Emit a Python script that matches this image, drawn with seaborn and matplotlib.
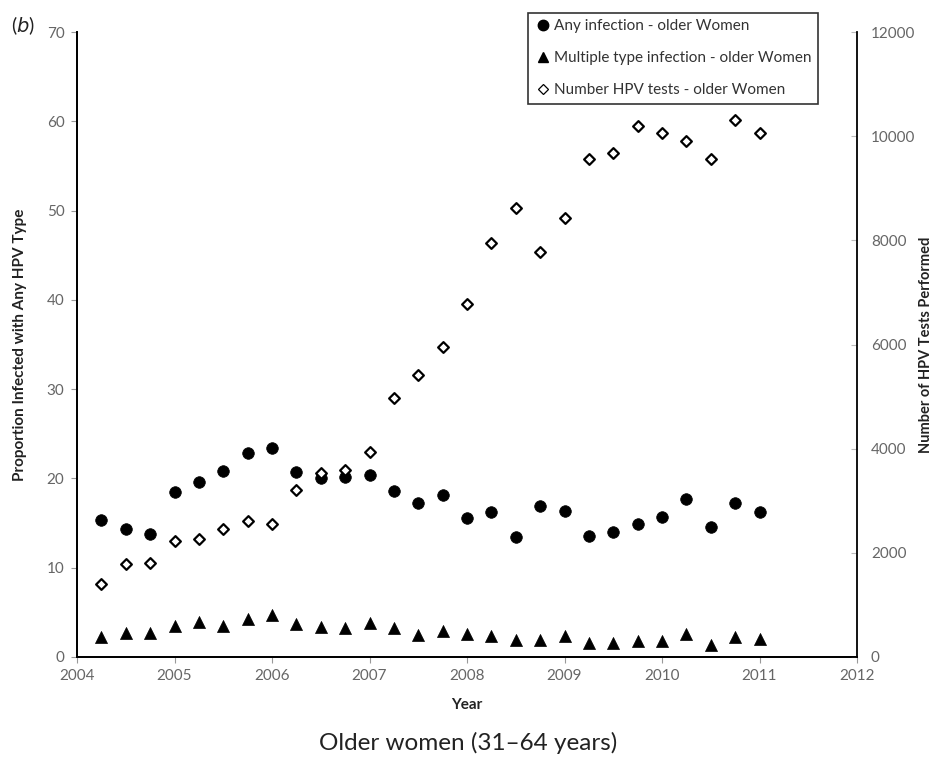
import numpy as np
import pandas as pd
import matplotlib
matplotlib.use("Agg")
import matplotlib.pyplot as plt
import seaborn as sns
from matplotlib.lines import Line2D

# quarterly sample dates
quarters = [2004.25, 2004.5, 2004.75, 2005.0, 2005.25, 2005.5, 2005.75,
            2006.0, 2006.25, 2006.5, 2006.75, 2007.0, 2007.25, 2007.5,
            2007.75, 2008.0, 2008.25, 2008.5, 2008.75, 2009.0, 2009.25,
            2009.5, 2009.75, 2010.0, 2010.25, 2010.5, 2010.75, 2011.0]

# % infected with any HPV type
any_infection = [15.4, 14.3, 13.8, 18.5, 19.6, 20.8, 22.9, 23.4, 20.7, 20.1,
                 20.2, 20.4, 18.6, 17.2, 18.2, 15.6, 16.2, 13.4, 16.9, 16.3,
                 13.5, 14.0, 14.9, 15.7, 17.7, 14.6, 17.2, 16.2]

# % with multiple type infection
multiple_type = [2.2, 2.7, 2.7, 3.5, 3.9, 3.5, 4.3, 4.7, 3.7, 3.4, 3.2, 3.8,
                 3.2, 2.5, 2.9, 2.6, 2.4, 1.9, 1.9, 2.3, 1.6, 1.6, 1.8, 1.8,
                 2.6, 1.3, 2.2, 2.0]

# number of HPV tests performed (right axis)
n_tests = [1400, 1790, 1800, 2230, 2270, 2450, 2610, 2560, 3210, 3530, 3600,
           3930, 4980, 5410, 5950, 6780, 7940, 8620, 7780, 8430, 9570, 9680,
           10200, 10070, 9900, 9560, 10310, 10070]

legend_labels = ["Any infection - older Women",
                 "Multiple type infection - older Women",
                 "Number HPV tests - older Women"]

sns.set_style("white")
plt.rcParams["font.family"] = ["Lato", "DejaVu Sans"]

df = pd.DataFrame({"Year": quarters, "any": any_infection,
                   "multi": multiple_type, "tests": n_tests})

fig = plt.figure(figsize=(9.34, 7.59), dpi=100)
ax = fig.add_axes([77 / 934, 1 - 657 / 759, 780 / 934, 625 / 759])
ax2 = ax.twinx()

sns.scatterplot(data=df, x="Year", y="any", ax=ax, marker="o", s=70,
                color="black", edgecolor="black", linewidth=0.5, zorder=3)
sns.scatterplot(data=df, x="Year", y="multi", ax=ax, marker="^", s=75,
                color="black", edgecolor="black", linewidth=0.5, zorder=3)
sns.scatterplot(data=df, x="Year", y="tests", ax=ax2, marker="D", s=30,
                color="white", edgecolor="black", linewidth=1.6, zorder=3)

ax.set_xlim(2004, 2012)
ax.set_ylim(0, 70)
ax2.set_ylim(0, 12000)
ax.set_xticks(range(2004, 2013))
ax.set_yticks(range(0, 71, 10))
ax2.set_yticks(range(0, 12001, 2000))

tick_col = "#666666"
ax.tick_params(axis="both", labelsize=11, labelcolor=tick_col, color="#999999",
               length=4, width=0.8, direction="out", left=True, bottom=True)
ax.tick_params(axis="y", pad=5)
ax.tick_params(axis="x", pad=5)
ax2.tick_params(axis="y", labelsize=11, labelcolor=tick_col, color="#bbbbbb",
                length=4, width=0.8, direction="in", right=True, pad=10)

for a in (ax, ax2):
    a.spines["top"].set_visible(False)
    for s in ("left", "right", "bottom"):
        a.spines[s].set_color("black")
        a.spines[s].set_linewidth(1.3)
ax.spines["right"].set_visible(False)

lab_kw = dict(fontweight="bold", color="#222222")
ax.set_xlabel("Year", fontsize=11, **lab_kw)
ax.set_ylabel("Proportion Infected with Any HPV Type", fontsize=11, **lab_kw)
ax2.set_ylabel("Number of HPV Tests Performed", rotation=90, fontsize=10.5,
               **lab_kw)
ax.xaxis.set_label_coords(0.5, -(698 - 657) / 625)
ax.yaxis.set_label_coords(-(77 - 27) / 780, 0.5)
ax2.yaxis.set_label_coords((919 - 77) / 780, 0.5)

handles = [
    Line2D([], [], marker="o", linestyle="none", color="black", markersize=7.5),
    Line2D([], [], marker="^", linestyle="none", color="black", markersize=7.5),
    Line2D([], [], marker="D", linestyle="none", markerfacecolor="white",
           markeredgecolor="black", markeredgewidth=0.9, markersize=5),
]
leg = ax2.legend(handles, legend_labels, loc="upper right",
                 bbox_to_anchor=(818 / 934, 1 - 13 / 759),
                 bbox_transform=fig.transFigure, frameon=True, fancybox=False,
                 fontsize=11, labelspacing=1.18, handlelength=1.1,
                 handletextpad=0.2, borderpad=0.42, borderaxespad=0)
leg.get_frame().set_edgecolor("black")
leg.get_frame().set_linewidth(1.2)
for t in leg.get_texts():
    t.set_color("#333333")

fig.text(11 / 934, 1 - 26 / 759, r"($\mathit{b}$)", fontsize=14,
         ha="left", va="center", color="#222222")
fig.text(468 / 934, 1 - 743 / 759, "Older women (31\u201364 years)",
         fontsize=17.5, ha="center", va="center", color="#222222")

fig.savefig("out.png", dpi=100)
